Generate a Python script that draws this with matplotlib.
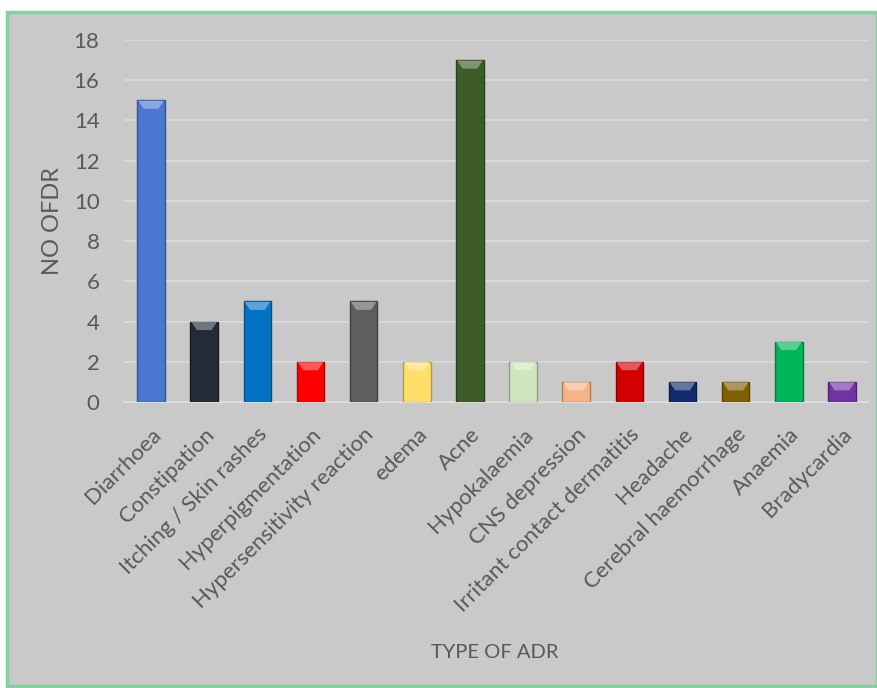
import matplotlib.pyplot as plt
from matplotlib.patches import Rectangle
from matplotlib.colors import to_rgb
import numpy as np

# Chart data
adr_types = ['Diarrhoea', 'Constipation', 'Itching / Skin rashes', 'Hyperpigmentation',
             'Hypersensitivity reaction', 'edema', 'Acne', 'Hypokalaemia',
             'CNS depression', 'Irritant contact dermatitis', 'Headache',
             'Cerebral haemorrhage', 'Anaemia', 'Bradycardia']
adr_counts = [15, 4, 5, 2, 5, 2, 17, 2, 1, 2, 1, 1, 3, 1]
bar_colors = ['#4a78d0', '#232b36', '#0272c4', '#ff0000', '#5e5e5e', '#ffdf6a',
              '#3d5c26', '#cde6bd', '#f6b387', '#d20000', '#112a6c', '#806000',
              '#00b458', '#7232a4']
y_ticks = [0, 2, 4, 6, 8, 10, 12, 14, 16, 18]

plt.rcParams['font.family'] = ['Lato', 'DejaVu Sans']
text_color = '#595959'

fig = plt.figure(figsize=(8.78, 6.88), dpi=100)
fig.patch.set_facecolor('white')

# grey chart panel with green border
panel = Rectangle((7 / 878, 2 / 688), 870 / 878, 674 / 688, transform=fig.transFigure,
                  facecolor='#c9c9c9', edgecolor='#86cfa2', linewidth=2.5, zorder=-5)
fig.patches.append(panel)

ax = fig.add_axes([124.5 / 878, 1 - 402 / 688, 744 / 878, 362 / 688])
ax.set_zorder(1)
ax.set_facecolor('none')

x = np.arange(len(adr_types))
edge_cols = [tuple(c * 0.7 for c in to_rgb(col)) for col in bar_colors]
ax.bar(x, adr_counts, width=0.52, color=bar_colors, edgecolor=edge_cols,
       linewidth=1.0, zorder=3)

# light bevel at the top of each bar
for xi, val, col in zip(x, adr_counts, bar_colors):
    light = tuple(min(1, c + (1 - c) * 0.35) for c in to_rgb(col))
    ax.fill([xi - 0.24, xi + 0.24, xi + 0.14, xi - 0.14],
            [val - 0.02, val - 0.02, val - 0.42, val - 0.42],
            color=light, zorder=4, linewidth=0)

ax.set_xlim(-0.5, len(adr_types) - 0.5)
ax.set_ylim(0, 18)
ax.set_yticks(y_ticks)
ax.yaxis.grid(True, color='#dcdcdc', linewidth=1.2, zorder=0)
ax.set_axisbelow(True)
for s in ['top', 'right', 'left']:
    ax.spines[s].set_visible(False)
ax.spines['bottom'].set_color('#dcdcdc')
ax.spines['bottom'].set_linewidth(1.5)

ax.tick_params(axis='both', length=0, colors=text_color)
ax.tick_params(axis='y', labelsize=16, pad=18)
ax.set_xticks(x)
ax.set_xticklabels(adr_types, rotation=45, ha='right', rotation_mode='anchor',
                   fontsize=16, color=text_color)
ax.tick_params(axis='x', pad=16)

ax.set_ylabel('NO OFDR', fontsize=17, color=text_color, labelpad=8)
fig.text(495 / 878, 1 - 652 / 688, 'TYPE OF ADR', fontsize=14.5, color=text_color,
         ha='center', va='center')

fig.savefig('out.png', dpi=100)
